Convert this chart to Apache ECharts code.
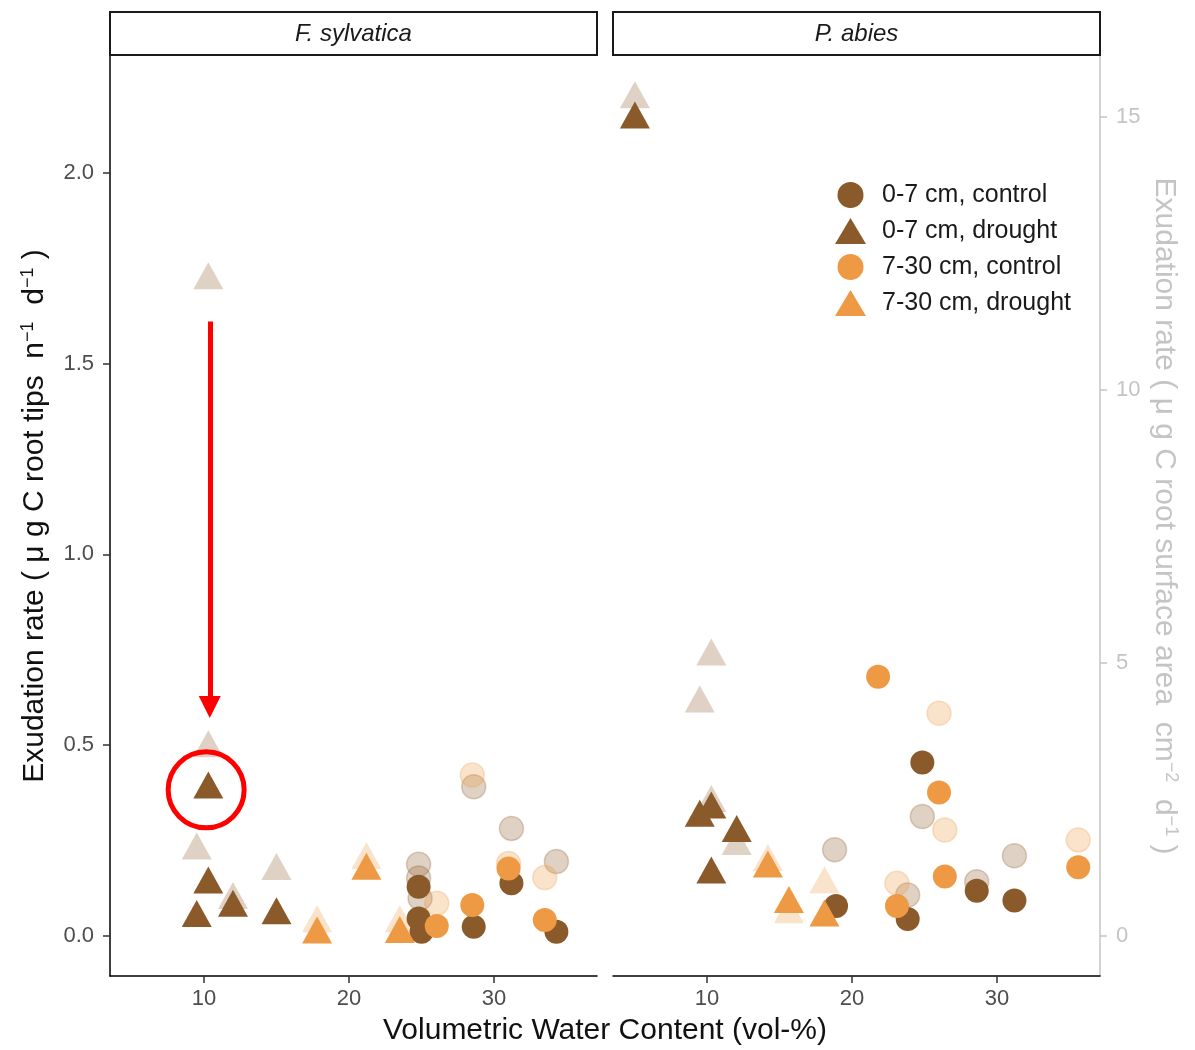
<!DOCTYPE html>
<html>
<head>
<meta charset="utf-8">
<script src="https://cdn.jsdelivr.net/npm/echarts@6/dist/echarts.min.js"></script>
<style>html,body{margin:0;padding:0;background:#fff;}#c{width:1195px;height:1050px;}</style>
</head>
<body>
<div id="c"></div>
<script>
// ---------- data ----------
const panels = ['F. sylvatica', 'P. abies'];
const seriesNames = ['0-7 cm, control', '0-7 cm, drought', '7-30 cm, control', '7-30 cm, drought'];
const xTicks = [10, 20, 30];
const yTicksLeft = [0, 0.5, 1.0, 1.5, 2.0];
const yTicksRight = [0, 5, 10, 15];

// F. sylvatica (left axis: µg C root tips n-1 d-1)
const fsTopControl      = [[24.8,0.129],[24.8,0.046],[25.0,0.011],[28.6,0.024],[31.2,0.138],[34.3,0.011]];
const fsTopControlFaded = [[24.8,0.188],[24.8,0.152],[24.9,0.099],[28.6,0.391],[31.2,0.282],[34.3,0.195]];
const fsTopDrought      = [[9.5,0.059],[10.3,0.147],[10.3,0.396],[12.0,0.086],[15.0,0.066]];
const fsTopDroughtFaded = [[9.5,0.236],[10.3,1.73],[10.3,0.504],[12.0,0.106],[15.0,0.182]];
const fsSubControl      = [[26.05,0.026],[28.5,0.081],[31.0,0.177],[33.5,0.042]];
const fsSubControlFaded = [[26.05,0.086],[28.5,0.422],[31.0,0.19],[33.5,0.153]];
const fsSubDrought      = [[17.8,0.016],[21.2,0.183],[23.5,0.017]];
const fsSubDroughtFaded = [[17.8,0.045],[21.2,0.211],[23.5,0.045]];

// P. abies (right axis: µg C root surface area cm-2 d-1)
const paTopControl      = [[18.9,0.55],[23.84,0.31],[24.85,3.18],[28.6,0.83],[31.2,0.65]];
const paTopControlFaded = [[18.8,1.58],[23.84,0.75],[24.85,2.19],[28.6,0.995],[31.2,1.47]];
const paTopDrought      = [[5.03,15.04],[9.5,2.25],[10.3,2.40],[10.3,1.21],[12.05,1.97]];
const paTopDroughtFaded = [[5.03,15.41],[9.5,4.34],[10.3,5.20],[10.3,2.52],[12.05,1.73]];
const paSubControl      = [[21.8,4.75],[23.1,0.55],[26.0,2.63],[26.4,1.09],[35.6,1.26]];
const paSubControlFaded = [[23.1,0.965],[26.0,4.08],[26.4,1.94],[35.6,1.76]];
const paSubDrought      = [[14.2,1.32],[15.65,0.67],[18.1,0.42]];
const paSubDroughtFaded = [[14.2,1.44],[15.65,0.48],[18.1,1.03]];

// annotation (red arrow + circle) in left-panel data units
const arrowFrom = [10.4, 1.61];
const arrowTo = [10.4, 0.60];
const circleAt = [10.15, 0.383];

// ---------- styles ----------
const FONT = '"Liberation Sans", Arial, Helvetica, sans-serif';
const BROWN = '#8B5A2B', ORANGE = '#EE9A45';
const BROWN_F = 'rgba(139,90,43,0.28)', ORANGE_F = 'rgba(238,154,69,0.28)';
const TRI = [30, 27], CIR = 24;

function mk(name, data, sym, color, g, faded) {
  const isCircle = sym === 'circle';
  return {
    type: 'scatter', name: name, xAxisIndex: g, yAxisIndex: g, data: data,
    symbol: sym, symbolSize: isCircle ? CIR : TRI,
    itemStyle: faded && isCircle
      ? { color: color, borderColor: color, borderWidth: 1.5, opacity: 1 }
      : { color: color, borderWidth: 0, opacity: 1 },
    emphasis: { disabled: true }, silent: true, z: faded ? 2 : 3
  };
}

const series = [
  mk('f1', fsTopControlFaded, 'circle', BROWN_F, 0, true),
  mk('f2', fsTopDroughtFaded, 'triangle', BROWN_F, 0, true),
  mk('f3', fsSubControlFaded, 'circle', ORANGE_F, 0, true),
  mk('f4', fsSubDroughtFaded, 'triangle', ORANGE_F, 0, true),
  mk('g1', paTopControlFaded, 'circle', BROWN_F, 1, true),
  mk('g2', paTopDroughtFaded, 'triangle', BROWN_F, 1, true),
  mk('g3', paSubControlFaded, 'circle', ORANGE_F, 1, true),
  mk('g4', paSubDroughtFaded, 'triangle', ORANGE_F, 1, true),
  mk(seriesNames[0], fsTopControl, 'circle', BROWN, 0, false),
  mk(seriesNames[1], fsTopDrought, 'triangle', BROWN, 0, false),
  mk(seriesNames[2], fsSubControl, 'circle', ORANGE, 0, false),
  mk(seriesNames[3], fsSubDrought, 'triangle', ORANGE, 0, false),
  mk(seriesNames[0], paTopControl, 'circle', BROWN, 1, false),
  mk(seriesNames[1], paTopDrought, 'triangle', BROWN, 1, false),
  mk(seriesNames[2], paSubControl, 'circle', ORANGE, 1, false),
  mk(seriesNames[3], paSubDrought, 'triangle', ORANGE, 1, false)
];

series.push({
  type: 'scatter', name: 'annot', xAxisIndex: 0, yAxisIndex: 0, data: [], silent: true, z: 10,
  markLine: {
    silent: true, symbol: ['none', 'triangle'], symbolSize: 22,
    label: { show: false },
    lineStyle: { color: '#FF0000', width: 5, type: 'solid', opacity: 1 },
    data: [[{ coord: arrowFrom }, { coord: arrowTo }]]
  },
  markPoint: {
    silent: true, symbol: 'circle', symbolSize: 76,
    label: { show: false },
    itemStyle: { color: 'rgba(0,0,0,0)', borderColor: '#FF0000', borderWidth: 5 },
    data: [{ coord: circleAt }]
  }
});

function xAxisCfg(g) {
  return {
    gridIndex: g, type: 'value', min: 3.52, max: 37.1,
    axisLine: { show: true, onZero: false, lineStyle: { color: '#000', width: 1.5 } },
    axisTick: { show: true, length: 7, customValues: xTicks, lineStyle: { color: '#333', width: 1.5 } },
    axisLabel: { customValues: xTicks, color: '#4d4d4d', fontSize: 22, margin: 12, fontFamily: FONT },
    splitLine: { show: false }
  };
}

const sup = { fontSize: 18, padding: [0, 0, 14, 0], fontFamily: FONT };

const option = {
  backgroundColor: '#fff',
  animation: false,
  grid: [
    { left: 110, right: 1195 - 597, top: 56, bottom: 1050 - 976 },
    { left: 613, right: 1195 - 1100, top: 56, bottom: 1050 - 976 }
  ],
  xAxis: [xAxisCfg(0), xAxisCfg(1)],
  yAxis: [
    {
      gridIndex: 0, type: 'value', position: 'left', min: -0.1048, max: 2.306,
      axisLine: { show: true, onZero: false, lineStyle: { color: '#000', width: 1.5 } },
      axisTick: { show: true, length: 7, customValues: yTicksLeft, lineStyle: { color: '#333', width: 1.5 } },
      axisLabel: { customValues: yTicksLeft, color: '#4d4d4d', fontSize: 22, margin: 16, fontFamily: FONT,
                   formatter: v => v.toFixed(1) },
      splitLine: { show: false },
      name: 'Exudation rate ( \u03bc g C root tips  n{s|\u22121}  d{s|\u22121} )',
      nameLocation: 'middle', nameGap: 59,
      nameTextStyle: { fontSize: 30, color: '#111', fontFamily: FONT, rich: { s: sup } }
    },
    {
      gridIndex: 1, type: 'value', position: 'right', min: -0.733, max: 16.12,
      axisLine: { show: true, onZero: false, lineStyle: { color: '#c4c4c4', width: 1.5 } },
      axisTick: { show: true, length: 7, customValues: yTicksRight, lineStyle: { color: '#c4c4c4', width: 1.5 } },
      axisLabel: { customValues: yTicksRight, color: '#c4c4c4', fontSize: 22, margin: 16, fontFamily: FONT },
      splitLine: { show: false },
      name: 'Exudation rate ( \u03bc g C root surface area  cm{s|\u22122}  d{s|\u22121} )',
      nameLocation: 'middle', nameGap: 48, nameRotate: -90,
      nameTextStyle: { fontSize: 30, color: '#c4c4c4', fontFamily: FONT, rich: { s: sup } }
    }
  ],
  legend: {
    data: seriesNames, orient: 'vertical', left: 830, top: 177,
    itemWidth: 31, itemHeight: 26, itemGap: 10, selectedMode: false,
    textStyle: { fontSize: 25, color: '#1a1a1a', fontFamily: FONT, padding: [0, 0, 0, 11] }
  },
  graphic: [
    { type: 'rect', shape: { x: 110, y: 12, width: 487, height: 43 }, style: { fill: '#fff', stroke: '#1a1a1a', lineWidth: 2 }, z: 100 },
    { type: 'rect', shape: { x: 613, y: 12, width: 487, height: 43 }, style: { fill: '#fff', stroke: '#1a1a1a', lineWidth: 2 }, z: 100 },
    { type: 'text', x: 353.5, y: 34, z: 101, style: { text: panels[0], font: 'italic 24px ' + FONT, fill: '#1a1a1a', textAlign: 'center', textVerticalAlign: 'middle' } },
    { type: 'text', x: 856.5, y: 34, z: 101, style: { text: panels[1], font: 'italic 24px ' + FONT, fill: '#1a1a1a', textAlign: 'center', textVerticalAlign: 'middle' } },
    { type: 'text', x: 605, y: 1031, z: 101, style: { text: 'Volumetric Water Content (vol-%)', font: '30px ' + FONT, fill: '#111', textAlign: 'center', textVerticalAlign: 'middle' } }
  ],
  series: series
};

const chart = echarts.init(document.getElementById('c'), null, { renderer: 'canvas' });
chart.setOption(option);
</script>
</body>
</html>
